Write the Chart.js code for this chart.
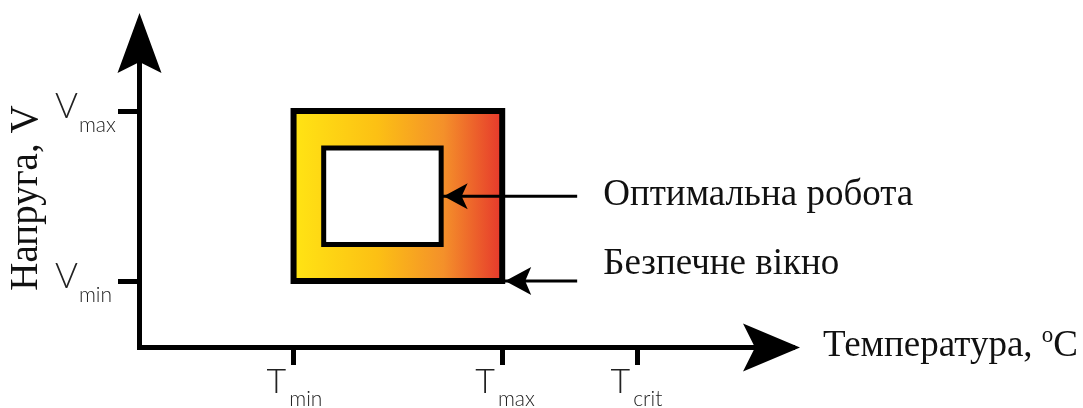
<!DOCTYPE html>
<html>
<head>
<meta charset="utf-8">
<script src="https://cdn.jsdelivr.net/npm/chart.js@4.4.1/dist/chart.umd.min.js"></script>
<style>
  html, body { margin: 0; padding: 0; background: #fff; }
  #wrap { width: 1083px; height: 408px; }
</style>
</head>
<body>
<div id="wrap"><canvas id="chart"></canvas></div>
<script>
// temperature axis (relative units) and its marked points
const xTicks = [20, 47, 64.5]
const xTickNames = ['min', 'max', 'crit']
// voltage axis
const yTicks = [20, 71.5]
const yTickNames = ['min', 'max']
// safe window = Tmin..Tmax x Vmin..Vmax, optimal region inside it
const safeT = [20, 47]
const safeV = [20, 71.5]
const optT = [23.9, 39.1]
const optV = [31.1, 60.3]
const notes = ['Оптимальна робота', 'Безпечне вікно']
const xTitle = 'Температура, '
const yTitle = 'Напруга, V'

const X_MAX = 84.5
const Y_MAX = 98.5
const NOTE_X = 56.7

const serif = '"Liberation Serif", "Times New Roman", serif'
const sans = 'Lato, "Open Sans", sans-serif'

let rect = (t, v) => [
  { x: t[0], y: v[0] }, { x: t[0], y: v[1] },
  { x: t[1], y: v[1] }, { x: t[1], y: v[0] }, { x: t[0], y: v[0] }
]

let optMid = (optV[0] + optV[1]) / 2

let arrowHead = (ctx, x, y, dx, dy, len, half, notch) => {
  let px = -dy
  let py = dx
  let bx = x - dx * len
  let by = y - dy * len
  ctx.beginPath()
  ctx.moveTo(x, y)
  ctx.lineTo(bx + px * half, by + py * half)
  ctx.lineTo(x - dx * (len - notch), y - dy * (len - notch))
  ctx.lineTo(bx - px * half, by - py * half)
  ctx.closePath()
  ctx.fill()
}

let subText = (ctx, main, sub, x, y, size, subSize, gap, drop) => {
  ctx.font = '300 ' + size + 'px ' + sans
  ctx.fillText(main, x, y)
  let w = ctx.measureText(main).width
  ctx.font = '300 ' + subSize + 'px ' + sans
  ctx.fillText(sub, x + w + gap, y + drop)
}

const decor = {
  id: 'decor',
  afterDraw (chart) {
    let { ctx, chartArea: ca, scales } = chart
    let xs = scales.x
    let ys = scales.y
    let axisX = ca.left + 0.5
    let axisY = ca.bottom + 0.5

    ctx.save()
    ctx.fillStyle = '#000'

    // axis arrows
    arrowHead(ctx, axisX, ca.top - 9, 0, -1, 60, 22, 11)
    arrowHead(ctx, ca.right + 8, axisY, 1, 0, 57, 24, 12)

    // pointer arrows
    arrowHead(ctx, xs.getPixelForValue(optT[1]) + 2.5, ys.getPixelForValue(optMid), -1, 0, 24, 13, 6)
    arrowHead(ctx, xs.getPixelForValue(safeT[1]) + 3, ys.getPixelForValue(safeV[0]), -1, 0, 26, 14, 6)

    ctx.fillStyle = '#222'
    ctx.textAlign = 'left'
    ctx.textBaseline = 'alphabetic'

    // tick labels
    yTicks.forEach((v, i) => {
      let py = ys.getPixelForValue(v)
      subText(ctx, 'V', yTickNames[i], ca.left - 84, py + 7, 35, 21, 1, 14)
    })
    xTicks.forEach((v, i) => {
      let px = xs.getPixelForValue(v)
      subText(ctx, 'T', xTickNames[i], px - 27, axisY + 45, 34, 21, 3, 13)
    })

    // notes next to the arrows
    ctx.fillStyle = '#111'
    ctx.font = '37px ' + serif
    let nx = xs.getPixelForValue(NOTE_X) + 26
    ctx.fillText(notes[0], nx, ys.getPixelForValue(optMid) + 9)
    ctx.fillText(notes[1], nx, ys.getPixelForValue(safeV[0]) - 7)

    // x title with degree mark
    let tx = ca.right + 31
    let ty = axisY + 8
    ctx.fillText(xTitle, tx, ty)
    tx += ctx.measureText(xTitle).width
    ctx.font = '23px ' + serif
    ctx.fillText('o', tx, ty - 14)
    tx += ctx.measureText('o').width
    ctx.font = '37px ' + serif
    ctx.fillText('C', tx, ty)

    // y title
    ctx.translate(37, (ys.getPixelForValue(safeV[0]) + ys.getPixelForValue(safeV[1])) / 2 + 2)
    ctx.rotate(-Math.PI / 2)
    ctx.textAlign = 'center'
    ctx.font = '39px ' + serif
    ctx.fillText(yTitle, 0, 0)

    ctx.restore()
  }
}

let gradient = (context) => {
  let chart = context.chart
  if (!chart.chartArea) {
    return 'rgba(0,0,0,0)'
  }
  let xs = chart.scales.x
  let g = chart.ctx.createLinearGradient(xs.getPixelForValue(safeT[0]), 0, xs.getPixelForValue(safeT[1]), 0)
  g.addColorStop(0, '#ffe414')
  g.addColorStop(0.4, '#fcc014')
  g.addColorStop(0.72, '#f4902a')
  g.addColorStop(1, '#e6382c')
  return g
}

let lineSet = (data, width, order, extra) => Object.assign({
  data: data,
  showLine: true,
  borderColor: '#000',
  borderWidth: width,
  borderJoinStyle: 'miter',
  borderCapStyle: 'square',
  pointRadius: 0,
  pointHoverRadius: 0,
  fill: false,
  order: order
}, extra)

new Chart(document.getElementById('chart'), {
  type: 'scatter',
  data: {
    datasets: [
      lineSet(rect(safeT, safeV), 6, 4, { fill: 'shape', backgroundColor: gradient }),
      lineSet(rect(optT, optV), 5, 3, { fill: 'shape', backgroundColor: '#fff' }),
      lineSet([{ x: NOTE_X, y: optMid }, { x: optT[1], y: optMid }], 3, 2, { borderCapStyle: 'butt' }),
      lineSet([{ x: NOTE_X, y: safeV[0] }, { x: safeT[1], y: safeV[0] }], 3, 1, { borderCapStyle: 'butt' })
    ]
  },
  options: {
    responsive: true,
    maintainAspectRatio: false,
    animation: false,
    events: [],
    layout: { padding: { top: 22, right: 291, bottom: 0, left: 0 } },
    plugins: {
      legend: { display: false },
      tooltip: { enabled: false }
    },
    scales: {
      x: {
        type: 'linear',
        min: 0,
        max: X_MAX,
        afterFit (scale) { scale.height = 61 },
        afterBuildTicks (scale) { scale.ticks = xTicks.map(v => ({ value: v })) },
        grid: { drawOnChartArea: false, drawTicks: true, tickLength: 18, lineWidth: 5, color: '#000' },
        border: { display: true, width: 5, color: '#000' },
        ticks: { display: false, autoSkip: false }
      },
      y: {
        type: 'linear',
        min: 0,
        max: Y_MAX,
        afterFit (scale) { scale.width = 139 },
        afterBuildTicks (scale) { scale.ticks = yTicks.map(v => ({ value: v })) },
        grid: { drawOnChartArea: false, drawTicks: true, tickLength: 21, lineWidth: 5, color: '#000' },
        border: { display: true, width: 5, color: '#000' },
        ticks: { display: false, autoSkip: false }
      }
    }
  },
  plugins: [decor]
})
</script>
</body>
</html>
